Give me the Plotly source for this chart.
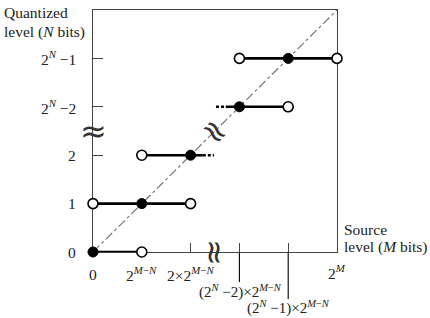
import plotly.graph_objects as go

W, H = 430, 318

# ---- data (in units of 2^(M-N) on x, quantized level index on y) ----
filled_x = [0, 1, 2, 3, 4]
filled_y = [0, 1, 2, 3, 4]
open_x = [1, 0, 2, 1, 4, 3, 5]
open_y = [0, 1, 1, 2, 3, 4, 4]
solid_x0 = [0, 0, 1, 2.72, 3]
solid_x1 = [1, 2, 2.25, 4, 5]
solid_y = [0, 1, 2, 3, 4]
dotted_x0 = [2.25, 2.52]
dotted_x1 = [2.48, 2.72]
dotted_y = [2, 3]
diag_x = [0, 5]
diag_y = [0, 5]
break_pos = 2.5

y_tick_vals = [0, 1, 2, 3, 4]
y_tick_text = ["0", "1", "2", "2<sup><i>N</i></sup> −2", "2<sup><i>N</i></sup> −1"]
x_tick_vals = [0, 1, 2, 3, 4, 5]
x_tick_text = ["0", "2<sup><i>M</i>−<i>N</i></sup>", "2×2<sup><i>M</i>−<i>N</i></sup>",
               "(2<sup><i>N</i></sup> −2)×2<sup><i>M</i>−<i>N</i></sup>",
               "(2<sup><i>N</i></sup> −1)×2<sup><i>M</i>−<i>N</i></sup>",
               "2<sup><i>M</i></sup>"]
x_label_drop = [22, 22, 22, 39, 55, 20]   # pixel offset of label centre below axis

# ---- layout geometry (pixels) ----
L, R, T, B = 93, 337, 10, 252
FONT = "Liberation Serif"
AX = "#444444"

def px(x):
    return x / W

def py(y):
    return 1 - y / H

fig = go.Figure()

# diagonal reference
fig.add_trace(go.Scatter(x=diag_x, y=diag_y, mode="lines",
                         line=dict(color="#777777", width=1.2, dash="dashdot"),
                         hoverinfo="skip", showlegend=False))

# solid segments
for x0, x1, y in zip(solid_x0, solid_x1, solid_y):
    fig.add_trace(go.Scatter(x=[x0, x1], y=[y, y], mode="lines",
                             line=dict(color="black", width=2.6),
                             showlegend=False, hoverinfo="skip"))
for x0, x1, y in zip(dotted_x0, dotted_x1, dotted_y):
    fig.add_trace(go.Scatter(x=[x0, x1], y=[y, y], mode="lines",
                             line=dict(color="black", width=2.6, dash="3px,2px"),
                             showlegend=False, hoverinfo="skip"))

fig.add_trace(go.Scatter(x=open_x, y=open_y, mode="markers", cliponaxis=False,
                         marker=dict(size=10, color="white",
                                     line=dict(color="black", width=1.6)),
                         showlegend=False, hoverinfo="skip"))
fig.add_trace(go.Scatter(x=filled_x, y=filled_y, mode="markers", cliponaxis=False,
                         marker=dict(size=10, color="black",
                                     line=dict(color="black", width=1)),
                         showlegend=False, hoverinfo="skip"))

fig.update_xaxes(range=[0, 5], domain=[px(L), px(R)], showgrid=False, zeroline=False,
                 showline=True, mirror=True, linecolor=AX, linewidth=1.4,
                 tickmode="array", tickvals=[2, 3, 4], ticks="inside", ticklen=9,
                 tickcolor=AX, tickwidth=1.2, showticklabels=False, layer="below traces")
fig.update_yaxes(range=[0, 5], domain=[py(B), py(T)], showgrid=False, zeroline=False,
                 showline=True, mirror=True, linecolor=AX, linewidth=1.4,
                 tickmode="array", tickvals=[2, 3, 4], ticks="inside", ticklen=10,
                 tickcolor=AX, tickwidth=1.2, showticklabels=False, layer="below traces")

# long tick lines under x labels for 3 and 4
for xv in (3, 4):
    end = 282 if xv == 3 else 299
    fig.add_shape(type="line", xref="x", yref="paper", x0=xv, x1=xv,
                  y0=py(B), y1=py(end), line=dict(color="black", width=1.1))

ann = []
font = dict(family=FONT, size=15.5, color="#222222")
font_s = dict(family=FONT, size=15, color="#222222")
for v, t in zip(y_tick_vals, y_tick_text):
    ann.append(dict(xref="paper", yref="y", x=px(78), y=v, text=t, showarrow=False,
                    xanchor="right", yanchor="middle", font=font))
for v, t, d in zip(x_tick_vals, x_tick_text, x_label_drop):
    if v == 3:
        ann.append(dict(xref="paper", yref="paper", x=px(283), y=py(B + d), text=t,
                        showarrow=False, xanchor="right", yanchor="middle", font=font_s,
                        borderpad=0))
    elif v == 4:
        ann.append(dict(xref="x", yref="paper", x=v, y=py(B + d), text=t,
                        showarrow=False, xanchor="center", yanchor="middle", font=font_s,
                        borderpad=0))
    else:
        ann.append(dict(xref="x", yref="paper", x=v, y=py(B + d), text=t,
                        showarrow=False, xanchor="center", yanchor="middle", font=font,
                        borderpad=0))
# axis titles
ann.append(dict(xref="paper", yref="paper", x=px(2), y=py(13), text="Quantized",
                showarrow=False, xanchor="left", yanchor="middle", font=font))
ann.append(dict(xref="paper", yref="paper", x=px(2), y=py(32), text="level (<i>N</i> bits)",
                showarrow=False, xanchor="left", yanchor="middle", font=font))
ann.append(dict(xref="paper", yref="paper", x=px(342), y=py(230), text="Source",
                showarrow=False, xanchor="left", yanchor="middle", font=font))
ann.append(dict(xref="paper", yref="paper", x=px(342), y=py(247), text="level (<i>M</i> bits)",
                showarrow=False, xanchor="left", yanchor="middle", font=font))
# break marks
bfont = dict(family="DejaVu Sans", size=32, color="#333333")
ann.append(dict(xref="paper", yref="y", x=px(L), y=break_pos, text="≈", showarrow=False,
                xanchor="center", yanchor="middle", font=bfont))
ann.append(dict(xref="x", yref="paper", x=break_pos, y=py(B), text="≈", showarrow=False,
                textangle=90, xanchor="center", yanchor="middle", font=bfont))
ann.append(dict(xref="x", yref="y", x=break_pos, y=break_pos, text="≈", showarrow=False,
                textangle=45, xanchor="center", yanchor="middle", font=bfont))

fig.update_layout(width=W, height=H, margin=dict(l=0, r=0, t=0, b=0),
                  paper_bgcolor="white", plot_bgcolor="white", annotations=ann,
                  showlegend=False)

fig.write_html("out.html")
